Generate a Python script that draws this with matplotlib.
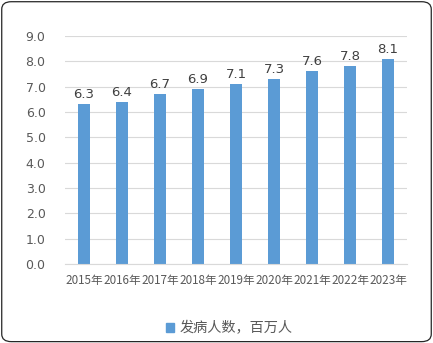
import matplotlib
matplotlib.use("Agg")
import matplotlib.pyplot as plt
from matplotlib.patches import FancyBboxPatch, Patch

plt.rcParams["font.family"] = ["Microsoft YaHei", "Noto Sans CJK SC", "DejaVu Sans"]

years = ["2015年", "2016年", "2017年", "2018年", "2019年", "2020年", "2021年", "2022年", "2023年"]
cases = [6.3, 6.4, 6.7, 6.9, 7.1, 7.3, 7.6, 7.8, 8.1]
series_name = "发病人数，百万人"

BAR = "#5B9BD5"
TXT = "#595959"
GRID = "#D9D9D9"

fig = plt.figure(figsize=(4.33, 3.43), dpi=100)
ax = fig.add_axes([0.150, 0.230, 0.790, 0.665])

x = range(len(years))
ax.bar(x, cases, width=0.32, color=BAR, zorder=2)
for i, v in zip(x, cases):
    ax.text(i, v + 0.12, f"{v:.1f}", ha="center", va="bottom", fontsize=9.5,
            color="#404040", family=["DejaVu Sans"])

ax.set_ylim(0, 9)
ax.set_xlim(-0.5, len(years) - 0.5)
ax.set_yticks([i * 1.0 for i in range(10)])
ax.set_yticklabels([f"{i:.1f}" for i in range(10)], family=["DejaVu Sans"])
ax.set_xticks(list(x))
ax.set_xticklabels(years, fontsize=8.4)
ax.tick_params(axis="y", colors=TXT, labelsize=9, length=0, pad=14)
ax.tick_params(axis="x", colors=TXT, length=0, pad=7)
ax.grid(axis="y", color=GRID, linewidth=0.8, zorder=0)
for s in ["top", "right", "left"]:
    ax.spines[s].set_visible(False)
ax.spines["bottom"].set_color(GRID)

fig.legend(handles=[Patch(color=BAR, label=series_name)], loc="center",
           bbox_to_anchor=(0.53, 0.043), frameon=False, fontsize=10.2,
           handlelength=0.6, handleheight=0.6, handletextpad=0.4,
           labelcolor=TXT)

border = FancyBboxPatch((0.004, 0.004), 0.992, 0.991, boxstyle="round,pad=0,rounding_size=0.022",
                        transform=fig.transFigure, fill=False, edgecolor="#262626", linewidth=0.9)
fig.patches.append(border)

fig.savefig("out.png", dpi=100)
